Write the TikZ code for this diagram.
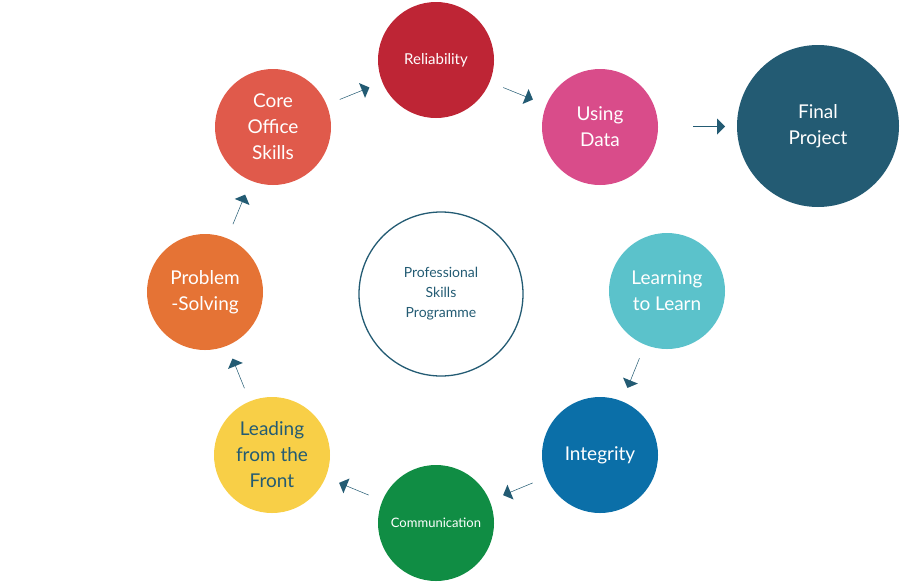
\documentclass[tikz,border=0pt]{standalone}
\usepackage{fontspec}
\setmainfont{Lato}
\usetikzlibrary{shapes.arrows,calc}
\definecolor{teal}{HTML}{235B73}
\definecolor{cRel}{HTML}{BE2535}
\definecolor{cData}{HTML}{D94C8A}
\definecolor{cCore}{HTML}{E05A4B}
\definecolor{cProb}{HTML}{E57335}
\definecolor{cLead}{HTML}{F8CF47}
\definecolor{cComm}{HTML}{108D44}
\definecolor{cInt}{HTML}{0B6FA8}
\definecolor{cLearn}{HTML}{5BC2CB}
\tikzset{
  skill/.style={circle,fill=#1,minimum size=116pt,inner sep=0pt,text=white,align=center,
    font=\fontsize{19}{26}\selectfont},
  blockarrow/.style={single arrow,fill=teal,minimum height=32pt,minimum width=16pt,
    single arrow head extend=6pt,inner sep=0pt,rotate=#1}
}
\begin{document}
\begin{tikzpicture}[x=1pt,y=-1pt]
\useasboundingbox (0,0) rectangle (902,584);
%skill circles
\node[skill=cRel,font=\fontsize{15}{20}\selectfont] (rel) at (436,60) {Reliability};
\node[skill=cData] (data) at (600,127) {Using\\Data};
\node[skill=teal,minimum size=162pt] (final) at (818,126) {Final\\Project};
\node[skill=cCore] (core) at (273,127) {Core\\Office\\Skills};
\node[skill=cProb] (prob) at (205,292) {Problem\\-Solving};
\node[skill=cLead,text=teal] (lead) at (272,455) {Leading\\from the\\Front};
\node[skill=cComm,font=\fontsize{13}{16}\selectfont] (comm) at (436,523) {Communication};
\node[skill=cInt] (integ) at (600,455) {Integrity};
\node[skill=cLearn] (learn) at (667,291) {Learning\\to Learn};
\node[circle,draw=teal,line width=1.3pt,minimum size=164pt,text=teal,align=center,
  font=\fontsize{14}{20}\selectfont] (centre) at (441,294) {Professional\\Skills\\Programme};
%arrows
\node[blockarrow=22] (a1) at ($(core)!0.5!(rel)$) {};
\node[blockarrow=-22] (a2) at ($(rel)!0.5!(data)$) {};
\node[blockarrow=0] (a3) at ($(data)!0.5!(final)$) {};
\node[blockarrow=-112] (a4) at ($(learn)!0.5!(integ)$) {};
\node[blockarrow=-157.5] (a5) at ($(integ)!0.5!(comm)$) {};
\node[blockarrow=157.5] (a6) at ($(comm)!0.5!(lead)$) {};
\node[blockarrow=112] (a7) at ($(lead)!0.5!(prob)$) {};
\node[blockarrow=67.6] (a8) at ($(prob)!0.5!(core)$) {};
\end{tikzpicture}
\end{document}
